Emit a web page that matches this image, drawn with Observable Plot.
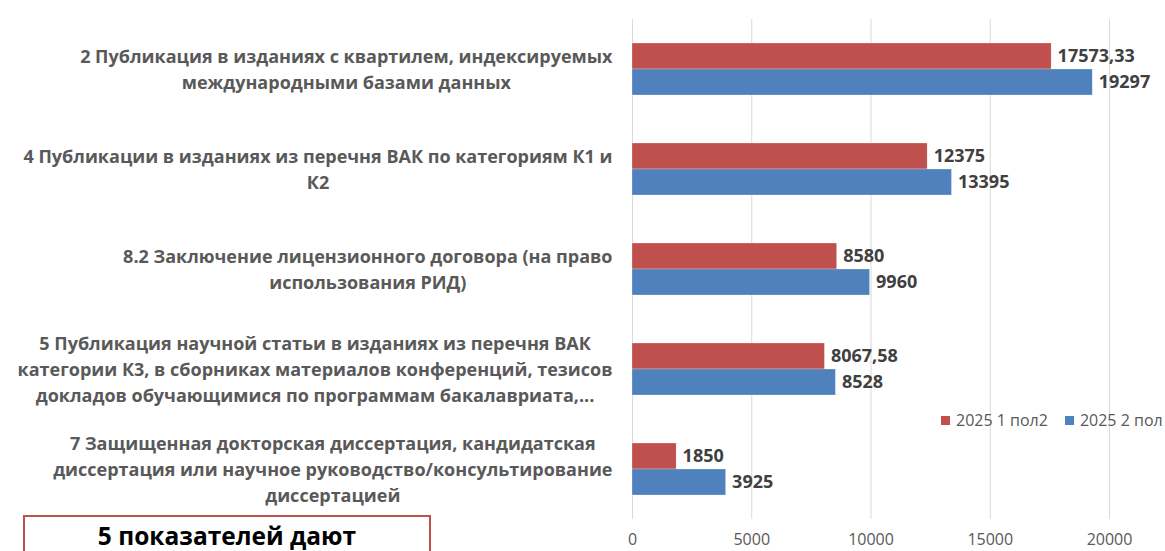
<!DOCTYPE html>
<html>
<head>
<meta charset="utf-8">
<script src="https://cdn.jsdelivr.net/npm/d3@7"></script>
<script src="https://cdn.jsdelivr.net/npm/@observablehq/plot@0.6"></script>
<style>
  html, body { margin: 0; padding: 0; background: #fff; }
  #wrap { position: relative; width: 1165px; height: 551px; overflow: hidden; font-family: "Open Sans", sans-serif; }
  #legend { position: absolute; top: 409px; left: 941px; font-size: 16px; color: #595959; white-space: nowrap; display: flex; align-items: center; }
  #legend .sw { display: inline-block; width: 9px; height: 9px; margin-right: 6px; }
  #legend .it { display: inline-flex; align-items: center; margin-right: 17px; }
  #note { position: absolute; left: 23px; top: 515px; width: 408px; height: 60px; border: 2px solid #C0504D; box-sizing: border-box; text-align: center; font-weight: bold; font-size: 24.5px; color: #000; line-height: 1; padding-top: 7px; }
</style>
</head>
<body>
<div id="wrap">
  <div id="chart"></div>
  <div id="legend"></div>
  <div id="note">5 показателей дают</div>
</div>
<script>
const categories = [
  "2 Публикация в изданиях с квартилем, индексируемых\nмеждународными базами данных",
  "4 Публикации в изданиях из перечня ВАК по категориям К1 и\nК2",
  "8.2 Заключение лицензионного договора (на право\nиспользования РИД)",
  "5 Публикация научной статьи в изданиях из перечня ВАК\nкатегории К3, в сборниках материалов конференций, тезисов\nдокладов обучающимися по программам бакалавриата,...",
  "7 Защищенная докторская диссертация, кандидатская\nдиссертация или научное руководство/консультирование\nдиссертацией"
];
const seriesNames = ["2025 1 пол2", "2025 2 пол"];
const seriesColors = ["#C0504D", "#4F81BD"];
const values1 = [17573.33, 12375, 8580, 8067.58, 1850];
const values2 = [19297, 13395, 9960, 8528, 3925];
const xTicks = [0, 5000, 10000, 15000, 20000];

const data = [];
categories.forEach((c, i) => {
  data.push({cat: c, series: seriesNames[0], value: values1[i]});
  data.push({cat: c, series: seriesNames[1], value: values2[i]});
});
const fmt = v => String(v).replace(".", ",");

// measure label blocks so each block is centred with its widest line ending at the same place
const labelFontSize = 18;
const ctx = document.createElement("canvas").getContext("2d");
ctx.font = `bold ${labelFontSize}px 'Open Sans'`;
const blockWidth = s => Math.max(...s.split("\n").map(l => ctx.measureText(l).width));

const labelMarks = categories.map(c => Plot.text([c], {
  fy: d => d, text: d => d, frameAnchor: "left",
  dx: -20 - blockWidth(c) / 2, dy: -2, textAnchor: "middle",
  fontSize: labelFontSize, fontWeight: "bold", fill: "#595959", lineHeight: 1.47
}));

const chart = Plot.plot({
  width: 1165,
  height: 551,
  marginLeft: 632,
  marginRight: 56,
  marginTop: 17,
  marginBottom: 30,
  style: {fontFamily: "'Open Sans', sans-serif", background: "#fff", overflow: "visible"},
  x: {domain: [0, 20000], axis: null},
  y: {domain: seriesNames, axis: null, paddingInner: 0, paddingOuter: 0.9},
  fy: {domain: categories, axis: null, padding: 0},
  color: {domain: seriesNames, range: seriesColors},
  marks: [
    Plot.gridX(xTicks, {stroke: "#D9D9D9", strokeOpacity: 1, strokeWidth: 1}),
    Plot.barX(data, {fy: "cat", y: "series", x: "value", fill: "series", stroke: "#fff", strokeOpacity: 0.5, strokeWidth: 0.5}),
    Plot.text(data, {fy: "cat", y: "series", x: "value", text: d => fmt(d.value), dx: 6, textAnchor: "start", fontSize: 18, fontWeight: "bold", fill: "#404040"}),
    ...labelMarks,
    Plot.axisX(xTicks, {anchor: "bottom", label: null, tickSize: 0, tickPadding: 14, fontSize: 16, fill: "#595959", tickFormat: d3.format("d")})
  ]
});
document.getElementById("chart").appendChild(chart);

const legend = document.getElementById("legend");
seriesNames.forEach((s, i) => {
  const it = document.createElement("span");
  it.className = "it";
  const sw = document.createElement("span");
  sw.className = "sw";
  sw.style.background = seriesColors[i];
  it.appendChild(sw);
  it.appendChild(document.createTextNode(s));
  legend.appendChild(it);
});
</script>
</body>
</html>
